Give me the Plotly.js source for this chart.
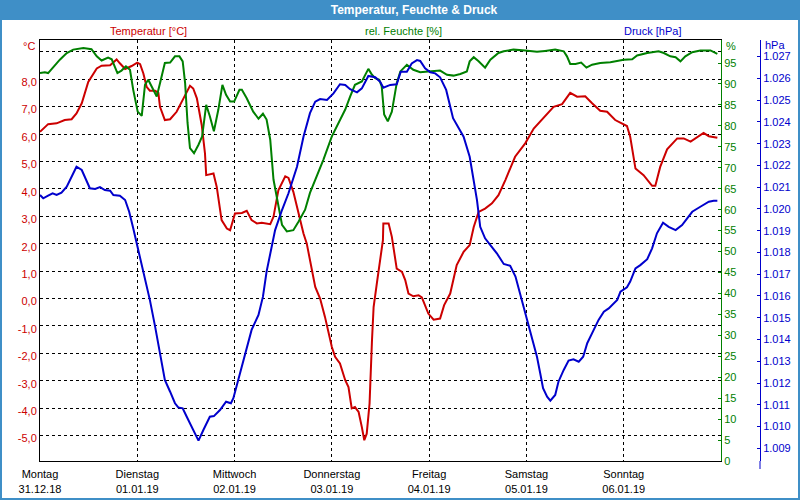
<!DOCTYPE html>
<html>
<head>
<meta charset="utf-8">
<script src="https://cdn.plot.ly/plotly-3.0.1.min.js"></script>
<style>
html,body{margin:0;padding:0;background:#fff;}
#chart{width:800px;height:500px;}
</style>
</head>
<body>
<div id="chart"></div>
<script>
// ---- data (hours since Montag 31.12.18 00:00) ----
const dayLabels = ["Montag<br>31.12.18","Dienstag<br>01.01.19","Mittwoch<br>02.01.19","Donnerstag<br>03.01.19","Freitag<br>04.01.19","Samstag<br>05.01.19","Sonntag<br>06.01.19"];
const dayTicks = [0,24,48,72,96,120,144];

const tempTickVals = [-5,-4,-3,-2,-1,0,1,2,3,4,5,6,7,8,9];
const tempTickText = ["-5,0","-4,0","-3,0","-2,0","-1,0","0,0","1,0","2,0","3,0","4,0","5,0","6,0","7,0","8,0",""];
const humTickVals = [0,5,10,15,20,25,30,35,40,45,50,55,60,65,70,75,80,85,90,95];
const presTickVals = [1009,1010,1011,1012,1013,1014,1015,1016,1017,1018,1019,1020,1021,1022,1023,1024,1025,1026,1027];
const presTickText = ["1.009","1.010","1.011","1.012","1.013","1.014","1.015","1.016","1.017","1.018","1.019","1.020","1.021","1.022","1.023","1.024","1.025","1.026","1.027"];

const tempHours = [0,2.0,4.1,6.1,7.8,9.0,10.3,11.9,14.0,15.2,17.3,18.9,19.7,21.0,22.6,24.0,24.7,25.5,26.3,27.1,28.4,29.2,29.6,30.8,32.1,33.7,35.4,37.0,37.8,38.7,39.9,40.7,41.0,42.8,43.6,44.8,46.1,46.9,48.1,49.8,51.0,52.2,53.5,54.7,56.8,57.6,58.8,60.5,61.3,62.5,63.8,65.0,65.8,67.1,67.9,69.1,70.3,72.0,72.8,74.0,75.3,76.1,76.9,77.7,78.6,79.4,80.0,80.6,81.3,81.9,82.3,83.1,83.9,84.6,84.7,86.0,86.8,87.6,88.0,89.3,90.1,90.9,92.1,93.4,94.2,95.8,97.1,98.7,99.7,101.2,102.8,104.5,106.0,107.0,108.2,109.8,111.5,113.1,114.8,117.2,119.7,121.8,124.2,126.7,128.8,130.8,132.5,134.5,136.2,138.2,139.9,141.9,144.8,145.6,146.9,148.9,151.0,151.8,153.0,154.7,157.2,158.8,160.5,161.7,163.7,165.0,167.1];
const tempValues = [6.08,6.36,6.39,6.51,6.54,6.75,7.12,7.9,8.39,8.49,8.51,8.72,8.58,8.37,8.48,8.6,8.55,8.21,7.72,7.58,7.58,7.5,6.99,6.51,6.54,6.81,7.3,7.76,7.66,7.3,6.32,5.29,4.5,4.56,4.07,2.86,2.55,2.49,3.1,3.12,3.2,2.86,2.74,2.76,2.71,2.98,3.95,4.46,4.4,3.89,3.1,2.37,2.01,0.97,0.42,0.0,-0.67,-1.77,-2.13,-2.37,-2.98,-3.23,-4.01,-3.96,-4.14,-4.69,-5.17,-4.93,-3.83,-1.52,-0.31,0.55,1.4,2.13,2.74,2.74,2.25,1.4,1.09,0.97,0.67,0.18,0.08,0.12,0.04,-0.55,-0.77,-0.73,-0.24,0.18,1.22,1.7,1.95,2.61,3.16,3.28,3.47,3.77,4.32,5.17,5.66,6.2,6.57,6.99,7.09,7.5,7.36,7.38,7.12,6.85,6.81,6.51,6.29,5.9,4.74,4.5,4.11,4.11,4.8,5.44,5.84,5.84,5.72,5.84,6.04,5.92,5.86];

const humHours = [0,1.2,2.0,3.7,4.9,6.6,8.2,10.7,12.7,14.0,15.2,16.8,17.7,19.1,20.1,21.2,22.2,23.0,24.1,25.1,25.9,26.7,27.9,28.8,29.6,30.8,32.1,33.3,34.4,35.2,35.8,36.4,37.0,38.0,39.1,40.0,41.0,41.9,42.9,44.0,45.0,45.9,46.9,47.9,49.2,49.8,51.0,52.6,53.9,55.0,55.9,56.8,57.6,58.6,59.7,60.9,62.5,63.8,65.4,66.6,68.3,69.9,72.0,73.6,75.3,76.5,77.7,79.4,81.0,81.9,82.7,83.7,84.3,84.9,85.8,86.8,88.0,88.9,90.5,92.1,93.8,95.8,98.7,100.4,102.0,103.7,105.3,106.0,107.0,108.2,109.8,111.1,113.1,114.4,116.8,119.7,122.6,124.6,127.1,129.2,130.0,130.8,132.1,133.5,134.8,136.2,138.2,140.7,144.0,146.1,147.3,149.8,152.6,153.9,155.5,156.8,158.0,159.2,160.9,162.9,165.4,167.1];
const humValues = [92.6,92.8,92.6,94.6,95.8,97.4,98.2,98.6,98.3,96.6,95.6,96.3,95.9,92.6,93.2,94.2,93.4,88.6,83.4,82.4,89.8,91.0,88.6,87.0,90.2,95.0,95.1,96.6,96.6,95.4,90.2,80.7,74.7,73.5,75.5,77.5,85.0,82.3,78.7,83.9,89.8,87.4,85.8,85.8,88.6,88.6,86.6,83.4,81.7,82.9,81.5,76.7,67.2,62.4,56.4,54.8,55.1,57.2,60.0,64.0,67.9,71.9,77.5,80.7,83.9,87.0,89.8,90.6,93.6,92.2,91.4,91.0,89.4,82.7,81.1,83.4,90.2,93.0,94.6,93.4,92.8,93.0,93.2,92.2,92.0,92.4,93.0,95.4,96.4,95.4,93.9,95.8,97.4,97.8,98.2,98.0,97.7,97.9,98.2,97.8,96.6,94.8,94.8,95.1,93.9,94.6,95.0,95.2,95.8,95.9,96.8,97.4,97.8,97.4,96.6,96.4,95.4,96.6,97.6,98.0,98.0,97.2];

const presHours = [0,0.8,2.0,3.1,4.1,5.3,6.6,7.8,9.0,10.3,11.5,12.3,13.6,14.8,16.0,17.3,18.1,19.7,21.0,22.0,23.0,24.0,25.5,27.1,28.4,29.6,30.8,32.1,33.3,34.1,35.2,36.2,37.7,39.1,40.3,41.9,42.9,44.4,45.9,47.1,47.7,48.9,50.6,52.2,53.9,55.0,55.9,56.8,58.0,59.7,61.3,63.4,65.0,66.6,67.9,69.1,70.8,72.4,74.0,75.3,76.5,78.2,79.4,81.0,82.7,83.9,84.7,86.4,88.0,89.0,90.5,91.7,93.0,93.8,95.0,96.3,97.5,98.7,100.2,101.9,103.3,104.5,106.0,107.0,107.8,108.6,109.8,111.1,112.7,114.4,116.0,117.3,118.5,119.7,121.0,122.6,123.4,124.1,125.1,125.9,127.1,127.9,129.2,130.4,131.6,132.9,134.0,135.0,136.6,137.8,139.1,140.3,142.4,143.2,144.8,145.6,146.9,148.1,149.8,151.0,152.2,153.7,155.1,156.8,158.4,160.9,162.9,165.0,166.2,167.1];
const presValues = [1020.64,1020.49,1020.61,1020.72,1020.64,1020.75,1021.02,1021.48,1021.94,1021.79,1021.33,1020.95,1020.92,1021.0,1020.87,1020.84,1020.64,1020.61,1020.41,1019.87,1019.11,1018.34,1017.19,1015.82,1014.59,1013.37,1012.14,1011.60,1011.07,1010.88,1010.84,1010.45,1009.84,1009.35,1009.84,1010.45,1010.48,1010.76,1011.14,1011.07,1011.30,1012.14,1013.44,1014.44,1015.13,1015.97,1017.12,1017.96,1019.03,1019.95,1020.72,1021.94,1023.32,1024.40,1024.93,1025.05,1025.01,1025.31,1025.73,1025.70,1025.50,1025.36,1025.54,1026.11,1026.05,1025.85,1025.57,1025.70,1025.73,1026.31,1026.31,1026.69,1026.84,1026.80,1026.46,1026.28,1026.23,1026.05,1025.47,1024.17,1023.71,1023.32,1022.40,1021.18,1020.41,1019.18,1018.65,1018.34,1017.96,1017.47,1017.39,1016.89,1016.05,1015.28,1014.29,1013.21,1012.45,1011.76,1011.37,1011.19,1011.45,1012.06,1012.60,1013.03,1013.09,1012.98,1013.21,1013.83,1014.44,1014.90,1015.28,1015.43,1015.82,1016.20,1016.40,1016.66,1017.27,1017.42,1017.69,1018.19,1018.88,1019.37,1019.18,1019.03,1019.26,1019.87,1020.10,1020.33,1020.38,1020.38];

// ---- styling ----
const RED = "#cc0000", GREEN = "#008000", BLUE = "#0000cc", BAR = "#3f8fc7";
const FONT = "Liberation Sans, Arial, sans-serif";
const W = 800, H = 500, ML = 40, MR = 40, MT = 40, MB = 39;
const PW = W - ML - MR, PH = H - MT - MB;
const px = x => (x - ML) / PW;            // pixel x -> paper
const py = y => (H - MB - y) / PH;        // pixel y -> paper
const DASH = "3px,3px";

const traces = [
  {x: tempHours, y: tempValues, yaxis: "y", type: "scatter", mode: "lines", line: {color: RED, width: 2}, name: "Temperatur"},
  {x: humHours, y: humValues, yaxis: "y2", type: "scatter", mode: "lines", line: {color: GREEN, width: 2}, name: "rel. Feuchte"},
  {x: presHours, y: presValues, yaxis: "y3", type: "scatter", mode: "lines", line: {color: BLUE, width: 2}, name: "Druck"}
];

const layout = {
  width: W, height: H,
  margin: {l: ML, r: MR, t: MT, b: MB, pad: 0},
  paper_bgcolor: "#ffffff", plot_bgcolor: "#ffffff",
  showlegend: false,
  font: {family: FONT, size: 11, color: "#000"},
  title: {text: "<b>Temperatur, Feuchte &amp; Druck</b>", font: {family: FONT, size: 12, color: "#ffffff"},
          xref: "container", yref: "container", x: 414/W, y: 1 - 10/H, xanchor: "center", yanchor: "middle"},
  xaxis: {
    domain: [0, px(721)], range: [0, 168],
    tickvals: dayTicks, ticktext: dayLabels, ticks: "", ticklabelstandoff: 3,
    tickfont: {family: FONT, size: 11, color: "#000"},
    showgrid: true, gridcolor: "#000", gridwidth: 1, griddash: DASH,
    showline: true, linecolor: "#000", linewidth: 1, mirror: true, zeroline: false
  },
  yaxis: {
    range: [-5.927, 9.429], tickvals: tempTickVals, ticktext: tempTickText, ticks: "", ticklabelshift: 3,
    tickfont: {family: FONT, size: 11, color: RED},
    showgrid: true, gridcolor: "#000", gridwidth: 1, griddash: DASH,
    showline: true, linecolor: "#000", linewidth: 1, zeroline: false
  },
  yaxis2: {
    overlaying: "y", side: "right", anchor: "x", range: [0, 100.5],
    tickvals: humTickVals, ticks: "inside", ticklen: 3, tickcolor: GREEN,
    tickfont: {family: FONT, size: 11, color: GREEN},
    showgrid: false, showline: true, linecolor: GREEN, linewidth: 1, zeroline: false
  },
  yaxis3: {
    overlaying: "y", side: "right", anchor: "free", position: 1, range: [1008.416, 1027.764],
    tickvals: presTickVals, ticktext: presTickText, ticks: "inside", ticklen: 3, tickcolor: BLUE,
    tickfont: {family: FONT, size: 11, color: BLUE},
    showgrid: false, showline: true, linecolor: BLUE, linewidth: 1, zeroline: false
  },
  shapes: [
    {type: "rect", xref: "paper", yref: "paper", layer: "below",
     x0: px(0), x1: px(800), y0: py(20), y1: py(0), fillcolor: BAR, line: {width: 0}},
    {type: "rect", xref: "paper", yref: "paper", layer: "above",
     x0: px(1), x1: px(799), y0: py(499), y1: py(1), fillcolor: "rgba(0,0,0,0)", line: {color: BAR, width: 2}},
    {type: "line", xref: "paper", yref: "paper", x0: 1, x1: 1, y0: py(461), y1: py(469), line: {color: BLUE, width: 1}}
  ],
  annotations: [
    {text: "Temperatur [°C]", xref: "paper", yref: "paper", x: px(148), y: py(31), xanchor: "center", yanchor: "middle", showarrow: false, font: {family: FONT, size: 11, color: RED}},
    {text: "rel. Feuchte [%]", xref: "paper", yref: "paper", x: px(403), y: py(31), xanchor: "center", yanchor: "middle", showarrow: false, font: {family: FONT, size: 11, color: GREEN}},
    {text: "Druck [hPa]", xref: "paper", yref: "paper", x: px(652), y: py(31), xanchor: "center", yanchor: "middle", showarrow: false, font: {family: FONT, size: 11, color: BLUE}},
    {text: "°C", xref: "paper", yref: "paper", x: px(37), y: py(46), xanchor: "right", yanchor: "middle", showarrow: false, font: {family: FONT, size: 11, color: RED}},
    {text: "%", xref: "paper", yref: "paper", x: px(724), y: py(46), xanchor: "left", yanchor: "middle", showarrow: false, font: {family: FONT, size: 11, color: GREEN}},
    {text: "hPa", xref: "paper", yref: "paper", x: px(763), y: py(45), xanchor: "left", yanchor: "middle", showarrow: false, font: {family: FONT, size: 11, color: BLUE}}
  ]
};

Plotly.newPlot("chart", traces, layout, {staticPlot: true, displayModeBar: false});
</script>
</body>
</html>
